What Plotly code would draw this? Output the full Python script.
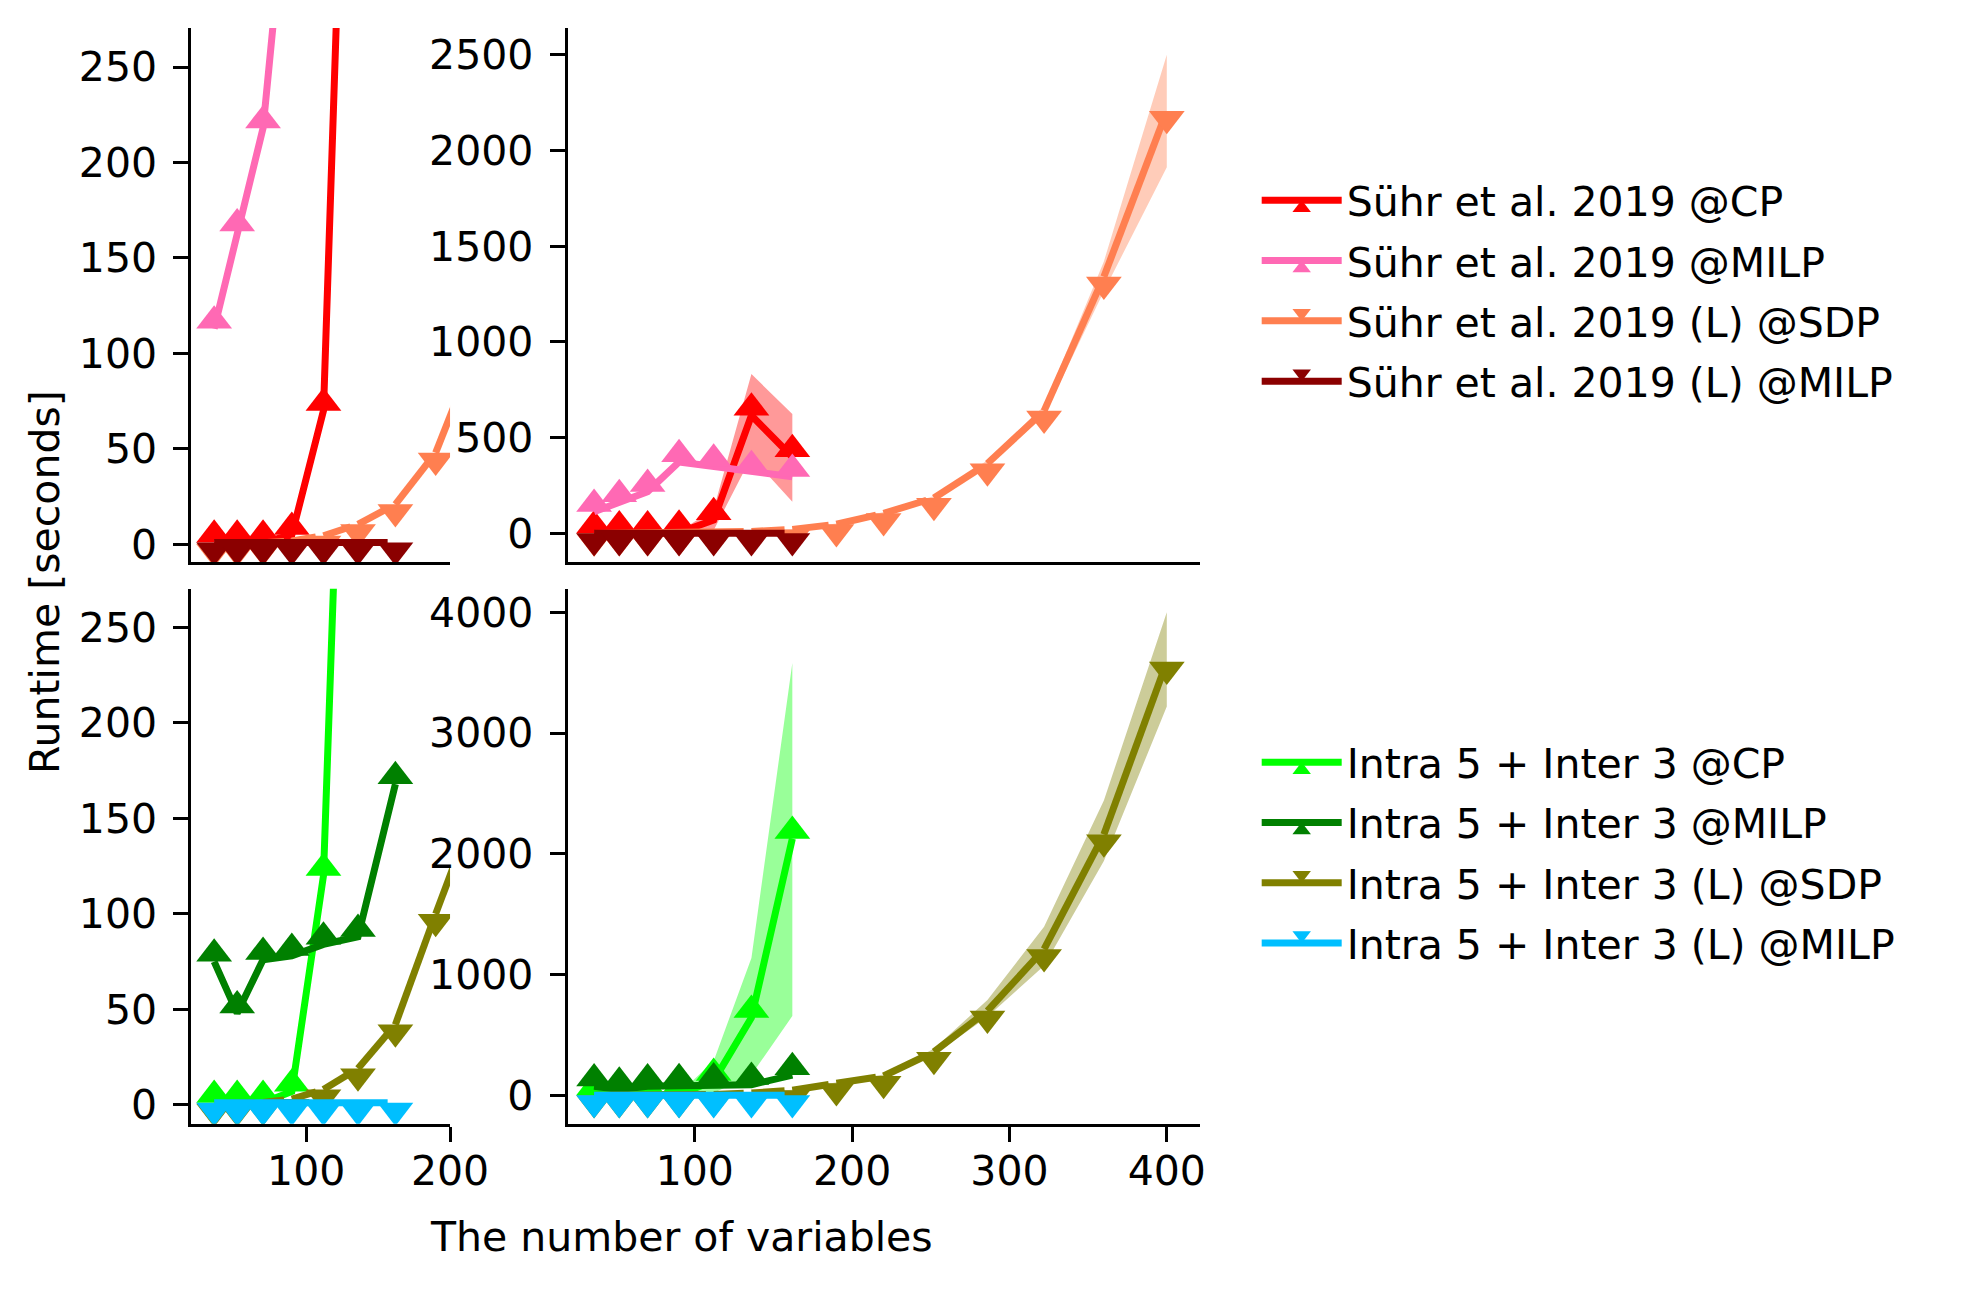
import plotly.graph_objects as go

W, H = 1979, 1293
OFF = 8  # default body margin of the html page
FW, FH = W - 2 * OFF, H - 2 * OFF

# number of variables (x positions)
n_vars = [36, 52, 70, 90, 112, 136, 162, 190, 220, 252, 286, 322, 360, 400]
n_small = n_vars[:7]

# Sühr et al. 2019
suhr_cp = [1, 1, 1, 5, 70, 616, 399]
suhr_cp_lo = [1, 1, 1, 1, 16, 400, 166]
suhr_cp_hi = [1, 1, 1, 9, 126, 832, 624]
suhr_milp = [113, 164, 218, 373, 350, 316, 296]
suhr_l_sdp = [0.2, 0.4, 0.8, 1.8, 4.5, 10.5, 21, 48, 105, 185, 365, 640, 1340, 2206]
suhr_l_sdp_lo = [0.2, 0.4, 0.8, 1.6, 4, 9.5, 19, 44, 98, 175, 348, 615, 1265, 1912]
suhr_l_sdp_hi = [0.2, 0.4, 0.8, 2, 5, 11.5, 23, 52, 112, 195, 382, 665, 1420, 2500]
suhr_l_milp = [1, 1, 1, 1, 1, 1, 1]

# Intra 5 + Inter 3
ours_cp = [1, 1, 1, 7, 120, 643, 2126]
ours_cp_lo = [1, 1, 1, 2, 20, 170, 657]
ours_cp_hi = [1, 1, 1, 15, 285, 1138, 3581]
ours_milp = [75, 48, 76, 78, 84, 88, 168]
ours_l_sdp = [0.5, 0.7, 1.2, 3, 8, 19, 42, 100, 160, 360, 700, 1210, 2160, 3590]
ours_l_sdp_lo = [0.5, 0.7, 1.1, 2.5, 7, 17, 38, 92, 148, 335, 650, 1074, 1941, 3221]
ours_l_sdp_hi = [0.5, 0.7, 1.3, 3.5, 9, 21, 46, 108, 172, 385, 790, 1397, 2441, 4001]
ours_l_milp = [1, 1, 1, 1, 1, 1, 1]

FONT = dict(family="DejaVu Sans", size=41, color="black")
MS = 31


def caret(color, up):
    # matplotlib-style caret: base of the triangle sits on the data point
    return dict(symbol="triangle-down", angle=180 if up else 0,
                standoff=MS / 4, size=MS, color=color, line=dict(width=0))


def band(fig, x, lo, hi, fill, xa, ya):
    fig.add_trace(go.Scatter(x=x + x[::-1], y=hi + lo[::-1], fill="toself",
                             fillcolor=fill, line=dict(width=0), mode="lines",
                             hoverinfo="skip", showlegend=False, xaxis=xa, yaxis=ya))


def series(fig, x, y, name, color, up, xa, ya, legend, show):
    fig.add_trace(go.Scatter(x=x, y=y, name=name, mode="lines+markers",
                             line=dict(color=color, width=7),
                             marker=caret(color, up), legend=legend,
                             legendgroup=name, showlegend=show,
                             xaxis=xa, yaxis=ya))


fig = go.Figure()

# zoomed panels (left) have no bands, full panels (right) do
for xa, ya, full in [("x", "y", False), ("x2", "y2", True)]:
    if full:
        band(fig, n_small, suhr_cp_lo, suhr_cp_hi, "rgba(255,0,0,0.4)", xa, ya)
    series(fig, n_small, suhr_cp, "Sühr et al. 2019 @CP", "#FF0000", True, xa, ya, "legend", full)
    series(fig, n_small, suhr_milp, "Sühr et al. 2019 @MILP", "#FF69B4", True, xa, ya, "legend", full)
    if full:
        band(fig, n_vars, suhr_l_sdp_lo, suhr_l_sdp_hi, "rgba(255,127,80,0.4)", xa, ya)
    series(fig, n_vars, suhr_l_sdp, "Sühr et al. 2019 (L) @SDP", "#FF7F50", False, xa, ya, "legend", full)
    series(fig, n_small, suhr_l_milp, "Sühr et al. 2019 (L) @MILP", "#8B0000", False, xa, ya, "legend", full)

for xa, ya, full in [("x3", "y3", False), ("x4", "y4", True)]:
    if full:
        band(fig, n_small, ours_cp_lo, ours_cp_hi, "rgba(0,255,0,0.4)", xa, ya)
    series(fig, n_small, ours_cp, "Intra 5 + Inter 3 @CP", "#00FF00", True, xa, ya, "legend2", full)
    series(fig, n_small, ours_milp, "Intra 5 + Inter 3 @MILP", "#008000", True, xa, ya, "legend2", full)
    if full:
        band(fig, n_vars, ours_l_sdp_lo, ours_l_sdp_hi, "rgba(128,128,0,0.4)", xa, ya)
    series(fig, n_vars, ours_l_sdp, "Intra 5 + Inter 3 (L) @SDP", "#808000", False, xa, ya, "legend2", full)
    series(fig, n_small, ours_l_milp, "Intra 5 + Inter 3 (L) @MILP", "#00BFFF", False, xa, ya, "legend2", full)


def px(a):
    return (a - OFF) / FW


def py(b):
    return 1 - (b - OFF) / FH


axis_common = dict(showline=True, linecolor="black", linewidth=3, showgrid=False,
                   zeroline=False, ticks="outside", ticklen=15, tickwidth=3,
                   tickcolor="black", tickfont=FONT, ticklabelstandoff=8)

left_dom, right_dom = [px(195), px(459)], [px(579), px(1224)]
top_dom, bot_dom = [py(565), py(28)], [py(1130), py(592)]

no_ticks = dict(ticks="", showticklabels=False)
x_ticks = dict(ticklabelstandoff=-6)

fig.update_layout(
    width=FW, height=FH, margin=dict(l=0, r=0, t=0, b=0),
    paper_bgcolor="white", plot_bgcolor="white", font=FONT,
    xaxis=dict(axis_common, **no_ticks, domain=left_dom, anchor="y", range=[20.1, 200]),
    yaxis=dict(axis_common, domain=top_dom, anchor="x", range=[-9.2, 270.5],
               tickvals=[0, 50, 100, 150, 200, 250]),
    xaxis2=dict(axis_common, **no_ticks, domain=right_dom, anchor="y2", range=[19.2, 421]),
    yaxis2=dict(axis_common, domain=top_dom, anchor="x2", range=[-149, 2640],
                tickvals=[0, 500, 1000, 1500, 2000, 2500]),
    xaxis3=dict(axis_common, **x_ticks, domain=left_dom, anchor="y3", range=[20.1, 200],
                tickvals=[100, 200]),
    yaxis3=dict(axis_common, domain=bot_dom, anchor="x3", range=[-10, 270.3],
                tickvals=[0, 50, 100, 150, 200, 250]),
    xaxis4=dict(axis_common, **x_ticks, domain=right_dom, anchor="y4", range=[19.2, 421],
                tickvals=[100, 200, 300, 400]),
    yaxis4=dict(axis_common, domain=bot_dom, anchor="x4", range=[-236, 4195],
                tickvals=[0, 1000, 2000, 3000, 4000]),
    legend=dict(x=px(1282), y=py(168), xanchor="left", yanchor="top",
                font=FONT, bgcolor="rgba(0,0,0,0)", traceorder="grouped",
                tracegroupgap=4, itemwidth=80),
    legend2=dict(x=px(1282), y=py(733), xanchor="left", yanchor="top",
                 font=FONT, bgcolor="rgba(0,0,0,0)", traceorder="grouped",
                 tracegroupgap=4, itemwidth=80),
    annotations=[
        dict(text="Runtime [seconds]", x=px(46), y=py(585), xref="paper",
             yref="paper", textangle=-90, showarrow=False, font=FONT,
             xanchor="center", yanchor="middle"),
        dict(text="The number of variables", x=px(695), y=py(1244),
             xref="paper", yref="paper", showarrow=False, font=FONT,
             xanchor="center", yanchor="middle"),
    ],
)

fig.write_html("out.html")
